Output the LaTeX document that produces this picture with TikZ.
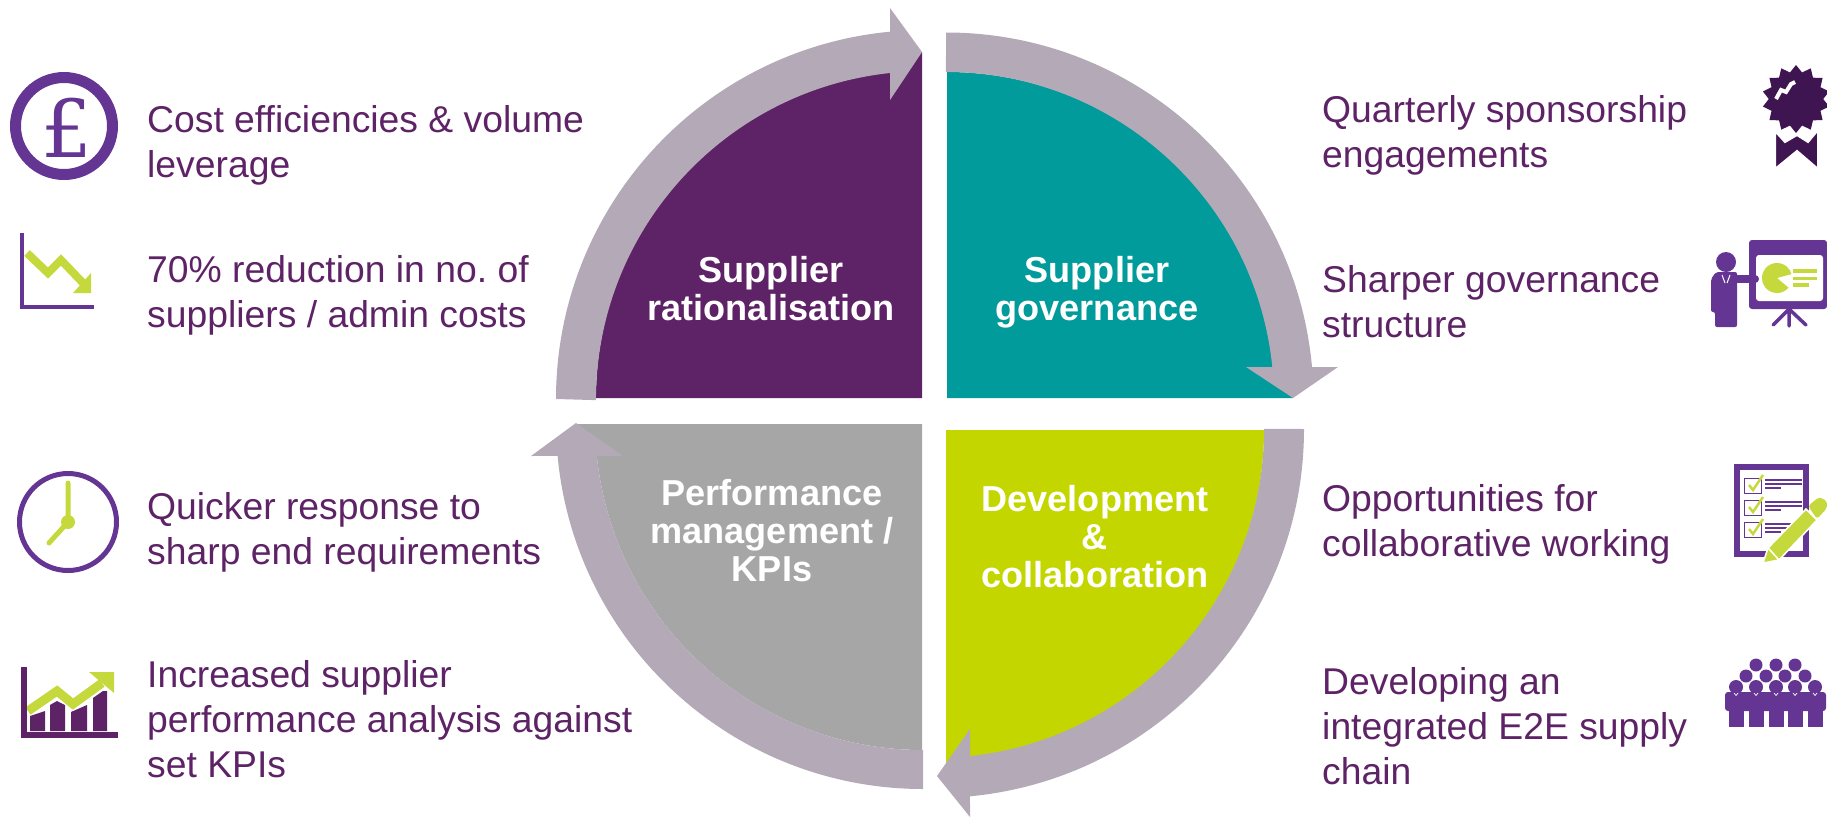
\documentclass[tikz,border=0pt]{standalone}
\usepackage{fontspec}
\setmainfont{Liberation Sans}
\newfontfamily\poundfont{DejaVu Serif}
\usetikzlibrary{shapes.geometric}
\definecolor{bandcol}{HTML}{B4A9B7}
\definecolor{plumcol}{HTML}{5E2366}
\definecolor{tealcol}{HTML}{009B9A}
\definecolor{limecol}{HTML}{C4D600}
\definecolor{greycol}{HTML}{A6A6A6}
\definecolor{iconcol}{HTML}{653594}
\definecolor{iconlime}{HTML}{C5D93D}
\definecolor{darkcol}{HTML}{3F1551}
\frenchspacing
\tikzset{
  quad/.style={align=center,inner sep=0pt,anchor=base,text=white,font=\fontsize{36.1}{37.6}\selectfont\bfseries},
  note/.style={align=left,inner sep=0pt,anchor=base west,text=plumcol,font=\fontsize{37.3}{45}\selectfont},
}
\begin{document}
\begin{tikzpicture}[x=1pt,y=1pt,yscale=-1]
    \useasboundingbox (0,0) rectangle (1827,817);
    % quadrants
    \fill[plumcol](922,398)--(596,398)arc[start angle=180,end angle=264,radius=329pt]--(922,52)--cycle;
    \fill[tealcol](947,398)--(947,72)arc[start angle=270,end angle=354.23,radius=328pt]--(1293,398)--cycle;
    \fill[limecol](946,430)--(1264,430)arc[start angle=0,end angle=83.9,radius=329pt]--(946,770)--cycle;
    \fill[greycol](922,424)--(576,424)--(596.8,456)arc[start angle=174.05,end angle=90,radius=328pt]--(922,750)--cycle;
    % arrows round the quadrants
    \fill[bandcol](556,399)arc[start angle=180,end angle=264.56,radius=369pt]--(890,8)--(922,52)--(890,100)--(890,73)arc[start angle=263.9,end angle=180,radius=329pt]--cycle;
    \fill[bandcol](946,32.5)arc[start angle=270,end angle=354.85,radius=367.5pt]--(1338,367)--(1293,398)--(1246,367)--(1272.3,367)arc[start angle=354.23,end angle=270,radius=328pt]--cycle;
    \fill[bandcol](1304,429)arc[start angle=0,end angle=84.56,radius=369pt]--(970,817)--(937,776)--(970,729)--(970,756)arc[start angle=83.9,end angle=0,radius=329pt]--cycle;
    \fill[bandcol](923,789)arc[start angle=90,end angle=174.7,radius=367pt]--(531,456)--(576,423)--(623,456)--(596.8,456)arc[start angle=174.05,end angle=90,radius=328pt]--cycle;
    \node[quad] (rational) at (771,320) {Supplier\\rationalisation};
    \node[quad] (govern) at (1097,320) {Supplier\\governance};
    \node[quad] (develop) at (1095,587) {Development\\\&\\collaboration};
    \node[quad] (perform) at (772,581) {Performance\\management /\\KPIs};
    % left and right texts
    \node[note] (cost) at (147,177) {Cost efficiencies \& volume\\leverage};
    \node[note] (reduce) at (147,327) {70\% reduction in no. of\\suppliers / admin costs};
    \node[note] (quick) at (147,564) {Quicker response to\\sharp end requirements};
    \node[note] (analysis) at (147,777) {Increased supplier\\performance analysis against\\set KPIs};
    \node[note] (sponsor) at (1322,167) {Quarterly sponsorship\\engagements};
    \node[note] (sharper) at (1322,337) {Sharper governance\\structure};
    \node[note] (oppor) at (1322,556) {Opportunities for\\collaborative working};
    \node[note] (integr) at (1322,784) {Developing an\\integrated E2E supply\\chain};
    % pound coin
    \draw[iconcol,line width=11pt](64,126)circle[radius=48.5pt];
    \node[inner sep=0pt,anchor=base,text=iconcol,font=\poundfont\fontsize{80}{80}\selectfont] (pound) at (67,157) {£};
    % falling chart
    \draw[iconlime,line width=8pt](27,253)--(48,273)--(61,260)--(84,284);
    \fill[iconlime](91,273)--(91,293)--(73,293)--cycle;
    \draw[iconcol,line width=3.5pt](22,233)--(22,307)--(94,307);
    % clock
    \draw[iconcol,line width=5pt](68,522)circle[radius=48.5pt];
    \draw[iconlime,line width=5pt,line cap=round](68,483)--(68,522)--(49,543);
    \fill[iconlime](68,522)circle[radius=7pt];
    % rising chart
    \fill[plumcol](30,716)--(45,711)--(45,731)--(30,731)--cycle;
    \fill[plumcol](50,705)--(57,701)--(65,705)--(65,731)--(50,731)--cycle;
    \fill[plumcol](71,712)--(87,705)--(87,731)--(71,731)--cycle;
    \fill[plumcol](93,698)--(103,691)--(107,691)--(107,731)--(93,731)--cycle;
    \draw[iconlime,line width=9pt](28,711)--(57,691)--(73,704)--(102,683);
    \fill[iconlime](89,672)--(114,672)--(114,693)--cycle;
    \draw[plumcol,line width=6pt](24,667)--(24,735)--(118,735);
    % seal with ribbon
    \node[star,star points=14,star point ratio=1.25,minimum size=68pt,inner sep=0pt,fill=darkcol] (seal) at (1796,99) {};
    \fill[darkcol,draw=white,line width=2pt](1775,131)--(1785,142)--(1797,135)--(1808,142)--(1818,130)--(1818,169)--(1797,151)--(1775,169)--cycle;
    \draw[white,line width=4pt](1776,99)--(1781,90)--(1786,92)--(1791,84)--(1795,82);
    % presenter and board
    \fill[iconcol,rounded corners=3pt](1749,240)--(1827,240)--(1827,309)--(1749,309)--cycle;
    \fill[white,rounded corners=3pt](1756,255)--(1823,255)--(1823,301)--(1756,301)--cycle;
    \draw[iconcol,line width=3.5pt,line cap=round](1789,309)--(1789,326)(1773,325)--(1789,309)--(1806,325);
    \fill[iconlime](1777,278)--++(40:15)arc[start angle=40,end angle=345,radius=15pt]--cycle;
    \foreach \yy/\xx in {271/1817,278.5/1817,285/1809}
      \draw[iconlime,line width=3.5pt](1793,\yy)--(\xx,\yy);
    \fill[iconcol](1726,262)circle[radius=10pt];
    \fill[iconcol,rounded corners=2pt](1711,279)--(1716,272)--(1737,272)--(1737,327)--(1715,327)--(1715,312)--(1711,312)--cycle;
    \draw[iconcol,line width=8pt,line cap=round](1737,279)--(1755,279);
    \draw[white,line width=1pt](1722,275)--(1725,283)(1730,275)--(1727,283);
    % checklist and pencil
    \draw[iconcol,line width=5.5pt](1737,467)rectangle(1806,554);
    \foreach \yy in {478,500,522}{
      \draw[iconcol,line width=1pt](1744,\yy)rectangle(1761,\yy+15);
      \draw[iconlime,line width=2.5pt](1749,\yy+7)--(1753,\yy+12)--(1763,\yy-3);
      \draw[iconcol,line width=2pt](1765,\yy+2)--(1802,\yy+2)(1765,\yy+6)--(1802,\yy+6)(1765,\yy+10)--(1781,\yy+10);
    }
    \fill[iconlime,draw=white,line width=1.5pt](1768,548)--(1806,509)--(1817,520)--(1779,560)--cycle;
    \fill[iconlime,draw=white,line width=1.5pt](1763,563)--(1768,548)--(1779,560)--cycle;
    \fill[iconlime,rounded corners=3pt](1808,506)--(1819,497)--(1827,501)--(1827,508)--(1817,519)--cycle;
    % audience
    \foreach \xx in {1756,1776,1795}
      \fill[iconcol](\xx,665)circle[radius=6.5pt];
    \foreach \xx in {1746,1766,1785,1805}
      \fill[iconcol](\xx,676)circle[radius=6.5pt];
    \foreach \xx in {1736,1756,1776,1795,1815}{
      \fill[iconcol](\xx,687)circle[radius=7pt];
      \fill[iconcol](\xx-7.5,705)rectangle(\xx+7.5,727);
    }
    \fill[iconcol,rounded corners=3pt](1725,692)rectangle(1826,711);
    \foreach \xx in {1736,1756,1776,1795,1815}
      \draw[white,line width=.7pt](\xx-2,693)--(\xx,695.5)--(\xx+2,693);
\end{tikzpicture}
\end{document}
